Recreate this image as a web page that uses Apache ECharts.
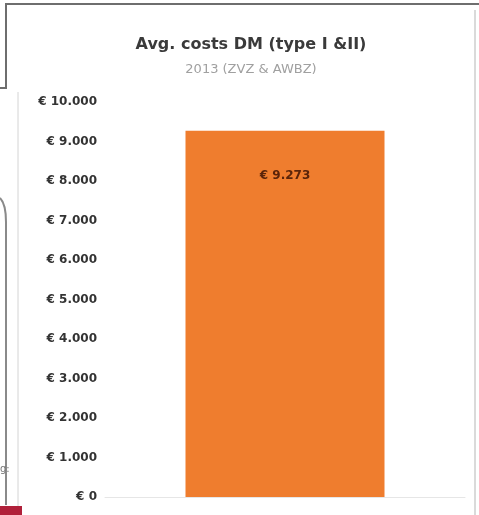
<!DOCTYPE html>
<html>
<head>
<meta charset="utf-8">
<script src="https://cdn.jsdelivr.net/npm/echarts@6/dist/echarts.min.js"></script>
<style>
  html, body { margin: 0; padding: 0; background: #fff; }
  #chart { width: 479px; height: 515px; }
</style>
</head>
<body>
<div id="chart"></div>
<script>
// Average cost per patient, diabetes mellitus type I & II
const categories = ['2013'];
const costValues = [9273];
const yTicks = [0, 1000, 2000, 3000, 4000, 5000, 6000, 7000, 8000, 9000, 10000];

const titleText = 'Avg. costs DM (type I &II)';
const subtitleText = '2013 (ZVZ & AWBZ)';

// Dutch-style thousands separator: 9273 -> "9.273"
function euro(v) {
  return '€ ' + String(v).replace(/\B(?=(\d{3})+(?!\d))/g, '.');
}

const chart = echarts.init(document.getElementById('chart'));
chart.setOption({
  backgroundColor: '#ffffff',
  animation: false,
  title: {
    text: titleText,
    subtext: subtitleText,
    left: 246,
    textAlign: 'center',
    top: 32,
    itemGap: 10,
    textStyle: { fontFamily: 'DejaVu Sans', fontSize: 16, fontWeight: 'bold', color: '#3a3a3a' },
    subtextStyle: { fontFamily: 'DejaVu Sans', fontSize: 13, color: '#a0a0a0' }
  },
  grid: { left: 105, right: 14, top: 102, bottom: 18, containLabel: false },
  xAxis: {
    type: 'category',
    data: categories,
    axisLine: { show: true, lineStyle: { color: '#e6e6e6' } },
    axisTick: { show: false },
    axisLabel: { show: false }
  },
  yAxis: {
    type: 'value',
    min: yTicks[0],
    max: yTicks[yTicks.length - 1],
    interval: yTicks[1] - yTicks[0],
    splitLine: { show: false },
    axisLine: { show: false },
    axisTick: { show: false },
    axisLabel: {
      margin: 8,
      fontFamily: 'DejaVu Sans',
      fontSize: 12,
      fontWeight: 'bold',
      color: '#333333',
      formatter: euro
    }
  },
  series: [{
    type: 'bar',
    data: costValues,
    barWidth: 199,
    itemStyle: { color: '#ef7d2e' },
    label: {
      show: true,
      position: 'insideTop',
      distance: 39,
      fontFamily: 'DejaVu Sans',
      fontSize: 12,
      fontWeight: 'bold',
      color: '#5a240a',
      formatter: p => euro(p.value)
    }
  }],
  graphic: [
    // surrounding worksheet frame
    { type: 'polyline', shape: { points: [[0, 88], [6, 88], [6, 4], [479, 4]] },
      style: { stroke: '#6e6e6e', lineWidth: 2, fill: null } },
    { type: 'line', shape: { x1: 18, y1: 92, x2: 18, y2: 515 },
      style: { stroke: '#d4d4d4', lineWidth: 1 } },
    { type: 'line', shape: { x1: 475, y1: 10, x2: 475, y2: 515 },
      style: { stroke: '#dadada', lineWidth: 2 } },
    { type: 'bezierCurve', shape: { x1: 0, y1: 198, cpx1: 6, cpy1: 204, x2: 6, y2: 222 },
      style: { stroke: '#8a8a8a', lineWidth: 2, fill: null } },
    { type: 'line', shape: { x1: 6, y1: 222, x2: 6, y2: 505 },
      style: { stroke: '#8a8a8a', lineWidth: 2 } },
    { type: 'rect', shape: { x: 0, y: 506, width: 22, height: 9 },
      style: { fill: '#b0203a' } },
    { type: 'text', style: { x: 0, y: 464, text: 'g:', fill: '#777', font: '10px "DejaVu Sans"' } }
  ]
});
</script>
</body>
</html>
